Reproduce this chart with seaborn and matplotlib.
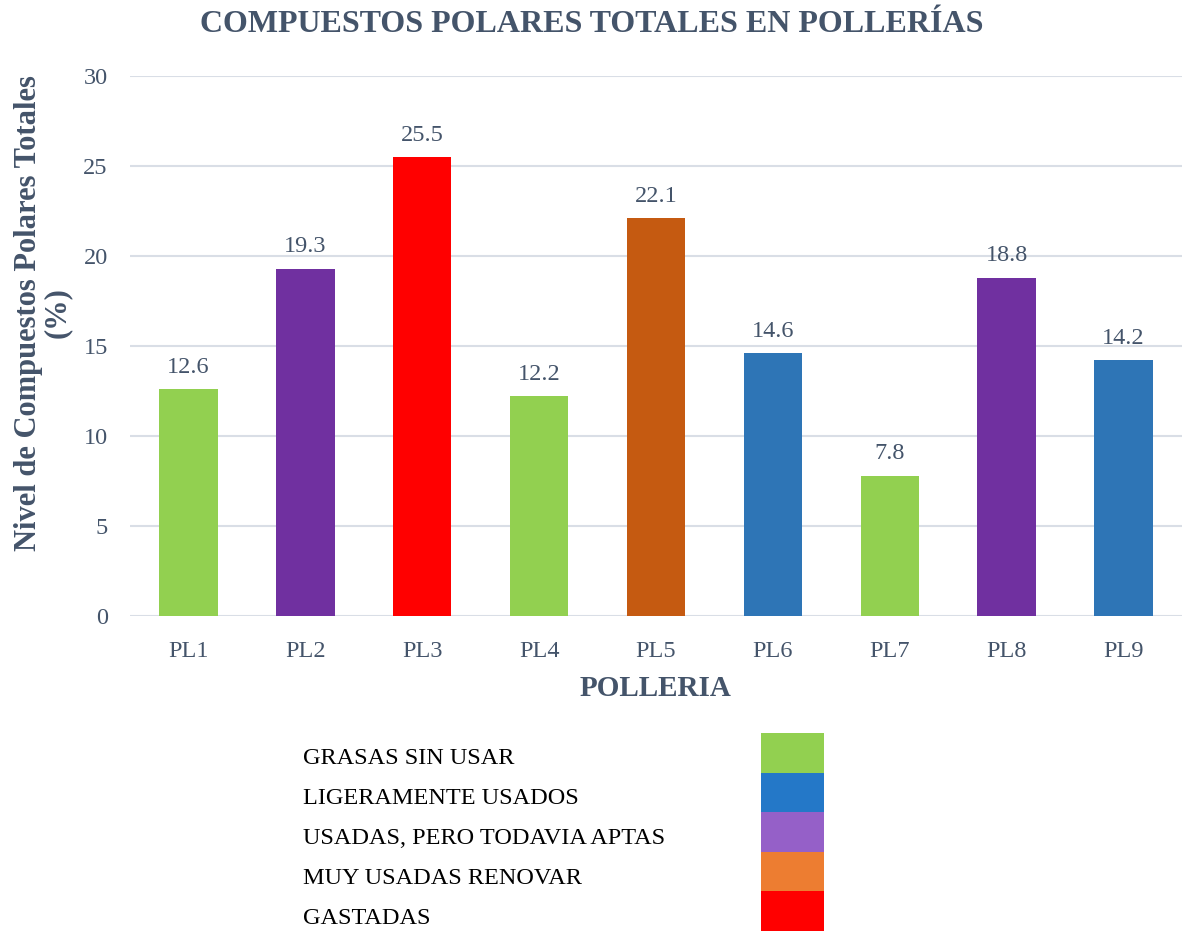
import pandas as pd
import matplotlib
matplotlib.use('Agg')
import matplotlib.pyplot as plt
import seaborn as sns

# Data
polleria = ['PL1', 'PL2', 'PL3', 'PL4', 'PL5', 'PL6', 'PL7', 'PL8', 'PL9']
cpt = [12.6, 19.3, 25.5, 12.2, 22.1, 14.6, 7.8, 18.8, 14.2]
bar_colors = ['#92D050', '#7030A0', '#FF0000', '#92D050', '#C55A11',
              '#2E75B6', '#92D050', '#7030A0', '#2E75B6']

legend_labels = ['GRASAS SIN USAR', 'LIGERAMENTE USADOS',
                 'USADAS, PERO TODAVIA APTAS', 'MUY USADAS RENOVAR', 'GASTADAS']
legend_colors = ['#92D050', '#2478C8', '#9560C8', '#ED7D31', '#FF0000']

TXT = '#44546A'

sns.set_theme(style="white")
plt.rcParams['font.family'] = ['Liberation Serif', 'DejaVu Serif']

W, H = 1185, 931
fig = plt.figure(figsize=(W / 100, H / 100), dpi=100)

# main chart
ax = fig.add_axes([130 / W, 1 - 616 / H, 1052 / W, 540 / H])
df = pd.DataFrame({'polleria': polleria, 'cpt': cpt})
sns.barplot(data=df, x='polleria', y='cpt', hue='polleria', palette=bar_colors,
            width=0.5, legend=False, saturation=1, linewidth=0, ax=ax, zorder=3)

ax.set_ylim(0, 30)
ax.set_xlim(-0.5, len(polleria) - 0.5)
ax.set_yticks(range(0, 31, 5))
ax.yaxis.grid(True, color='#D9DEE6', linewidth=1.5, zorder=0)
ax.set_axisbelow(True)
for s in ax.spines.values():
    s.set_visible(False)
ax.tick_params(axis='both', length=0, labelsize=17.5, colors=TXT)
ax.tick_params(axis='y', pad=16)
ax.tick_params(axis='x', pad=18)

for i, v in enumerate(cpt):
    ax.annotate(f'{v}', (i, v), xytext=(0, 8), textcoords='offset points',
                ha='center', va='bottom', fontsize=17.5, color=TXT)

ax.set_xlabel('POLLERIA', fontsize=21, fontweight='bold', color=TXT, labelpad=9)
ax.set_ylabel('Nivel de Compuestos Polares Totales\n(%)', fontsize=22,
              fontweight='bold', color=TXT, linespacing=1.0)
ax.yaxis.set_label_coords((72 - 130) / 1052, (616 - 313) / 540)

fig.text(592 / W, 1 - 25 / H, 'COMPUESTOS POLARES TOTALES EN POLLERÍAS',
         ha='center', va='center', fontsize=23, fontweight='bold', color=TXT)

# legend drawn as a stacked color key
lax = fig.add_axes([761 / W, 0, 63 / W, 198 / H])
leg = pd.DataFrame({'label': legend_labels, 'val': [1] * len(legend_labels)})
sns.barplot(data=leg, y='label', x='val', hue='label', palette=legend_colors,
            width=1.0, legend=False, saturation=1, linewidth=0, orient='h', ax=lax)
lax.set_xlim(0, 1)
lax.set_ylim(len(legend_labels) - 0.5, -0.5)
lax.axis('off')

for i, lab in enumerate(legend_labels):
    y = 1 - (758 + i * 40) / H
    fig.text(303 / W, y, lab, ha='left', va='center', fontsize=17.5, color='black')

fig.savefig('out.png', dpi=100, facecolor='white')
